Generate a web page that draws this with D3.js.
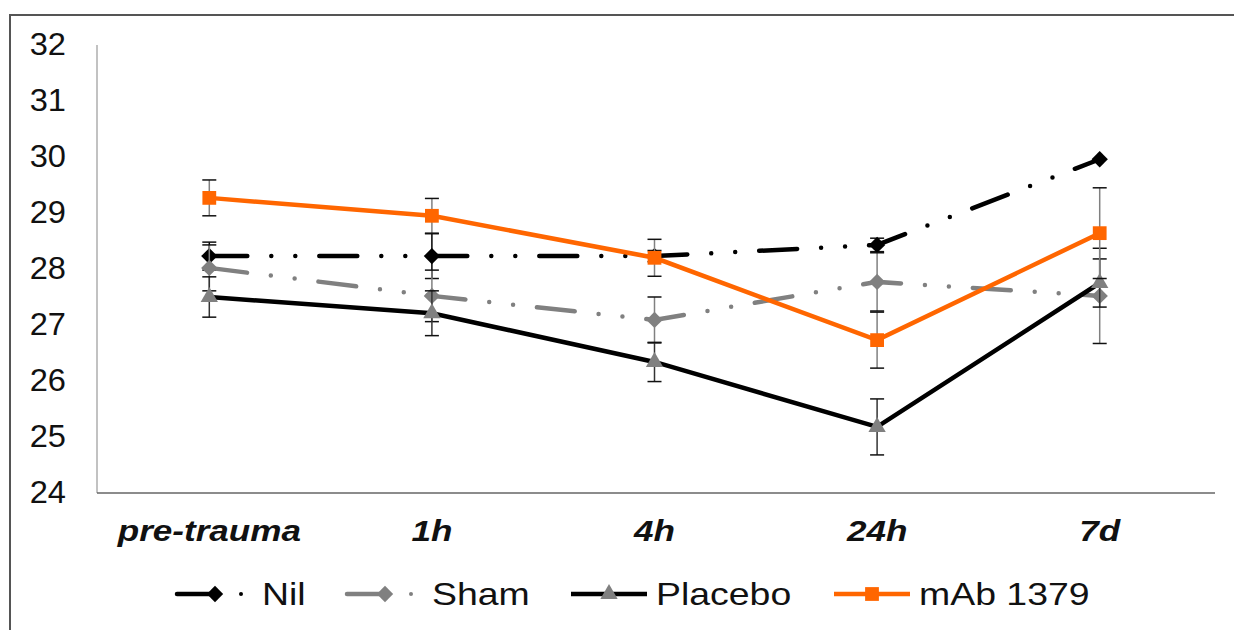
<!DOCTYPE html>
<html>
<head>
<meta charset="utf-8">
<style>
    body { margin: 0; background: #fff; }
    svg { display: block; font-family: 'Liberation Sans', Arial, sans-serif; }
    .y.axis .domain, .y.axis .tick line { display: none; }
    .x.axis .tick line { display: none; }
</style>
</head>
<body>
<svg width="1234" height="630"></svg>
<script src="https://d3js.org/d3.v7.min.js"></script>
<script>
    // time points
    const categories = ["pre-trauma", "1h", "4h", "24h", "7d"];
    const yTicks = [24, 25, 26, 27, 28, 29, 30, 31, 32];

    // series means and error bars
    const nil = [28.23, 28.23, 28.23, 28.43, 29.96];
    const nilErr = [0.25, 0.4, 0.1, 0.12, 0];
    const sham = [28.02, 27.52, 27.09, 27.77, 27.52];
    const shamErr = [0.41, 0.46, 0.41, 0.52, 0.85];
    const placebo = [27.5, 27.21, 26.34, 25.18, 27.75];
    const placeboErr = [0.36, 0.4, 0.35, 0.5, 0.43];
    const mab = [29.27, 28.95, 28.2, 26.73, 28.64];
    const mabErr = [0.32, 0.31, 0.33, 0.5, 0.81];

    const seriesNames = ["Nil", "Sham", "Placebo", "mAb 1379"];

    const series = [
        { name: seriesNames[0], values: nil, err: nilErr, line: "#000", dash: "38,24,0,24,0,24", marker: "diamond", fill: "#000", errColor: "#000" },
        { name: seriesNames[1], values: sham, err: shamErr, line: "#808080", dash: "38,24,0,24,0,24", marker: "diamond", fill: "#808080", errColor: "#808080" },
        { name: seriesNames[2], values: placebo, err: placeboErr, line: "#000", dash: null, marker: "triangle", fill: "#808080", errColor: "#333" },
        { name: seriesNames[3], values: mab, err: mabErr, line: "#ff6600", dash: null, marker: "square", fill: "#ff6600", errColor: "#808080" }
    ];

    const svg = d3.select("svg");
    const margin = { top: 45, right: 23, bottom: 137, left: 98 };
    const width = 1234, height = 630;

    // outer frame
    svg.append("rect")
        .attr("x", 10).attr("y", 15)
        .attr("width", 1240).attr("height", 640)
        .attr("fill", "none")
        .attr("stroke", "#555")
        .attr("stroke-width", 2);

    const x = d3.scaleBand()
        .domain(categories)
        .range([margin.left, width - margin.right]);

    const y = d3.scaleLinear()
        .domain([24, 32])
        .range([height - margin.bottom, margin.top]);

    const cx = d => x(d) + x.bandwidth() / 2;

    // y axis
    svg.append("line")
        .attr("x1", 97).attr("x2", 97)
        .attr("y1", y(32)).attr("y2", y(24))
        .attr("stroke", "#999").attr("stroke-width", 1.2);

    const ySx = 1.07;
    svg.append("g")
        .attr("class", "y axis")
        .attr("transform", "translate(97,0)")
        .call(d3.axisLeft(y).tickValues(yTicks).tickSize(0).tickPadding(0).tickFormat(d3.format("d")))
        .selectAll("text")
        .attr("x", -31 / ySx)
        .attr("transform", `scale(${ySx},1)`)
        .attr("font-size", 30.5)
        .attr("fill", "#111")
        .attr("font-family", "'Liberation Sans', Arial, sans-serif");

    // x axis
    svg.append("line")
        .attr("x1", 97).attr("x2", 1215)
        .attr("y1", y(24)).attr("y2", y(24))
        .attr("stroke", "#666").attr("stroke-width", 1.5);

    svg.append("g")
        .attr("class", "x axis")
        .attr("transform", `translate(0,${y(24)})`)
        .call(d3.axisBottom(x).tickSize(0).tickPadding(27))
        .call(g => g.select(".domain").remove())
        .selectAll("text")
        .attr("transform", "scale(1.17,1)")
        .attr("font-size", 30)
        .attr("font-weight", "bold")
        .attr("font-style", "italic")
        .attr("fill", "#111")
        .attr("font-family", "'Liberation Sans', Arial, sans-serif");

    const symbolOf = {
        diamond: d3.symbol().type(d3.symbolDiamond2 || d3.symbolDiamond).size(170),
        triangle: d3.symbol().type(d3.symbolTriangle).size(130),
        square: d3.symbol().type(d3.symbolSquare).size(190)
    };

    const line = d3.line()
        .x((d, i) => cx(categories[i]))
        .y(d => y(d));

    series.forEach(s => {
        const g = svg.append("g").attr("class", "series");

        g.append("path")
            .datum(s.values)
            .attr("d", line)
            .attr("fill", "none")
            .attr("stroke", s.line)
            .attr("stroke-width", 4.5)
            .attr("stroke-linecap", s.dash ? "round" : "butt")
            .attr("stroke-dasharray", s.dash);

        // error bars
        const eb = g.selectAll(".err")
            .data(s.values.map((v, i) => ({ v, e: s.err[i], c: categories[i] })).filter(d => d.e > 0))
            .join("g");
        eb.append("line")
            .attr("x1", d => cx(d.c)).attr("x2", d => cx(d.c))
            .attr("y1", d => y(d.v - d.e)).attr("y2", d => y(d.v + d.e))
            .attr("stroke", s.errColor).attr("stroke-width", 1.5);
        [-1, 1].forEach(sign => {
            eb.append("line")
                .attr("x1", d => cx(d.c) - 7).attr("x2", d => cx(d.c) + 7)
                .attr("y1", d => y(d.v + sign * d.e)).attr("y2", d => y(d.v + sign * d.e))
                .attr("stroke", "#111").attr("stroke-width", 1.5);
        });

        g.selectAll(".marker")
            .data(s.values)
            .join("path")
            .attr("class", "marker")
            .attr("transform", (d, i) => `translate(${cx(categories[i])},${y(d)})`)
            .attr("d", symbolOf[s.marker]())
            .attr("fill", s.fill);
    });

    // legend
    const legendX = [175, 345, 571, 834];
    const legendY = 594;
    const legend = svg.append("g").attr("class", "legend");
    series.forEach((s, i) => {
        const lg = legend.append("g").attr("transform", `translate(${legendX[i]},${legendY})`);
        if (s.dash) {
            lg.append("line")
                .attr("x1", 2).attr("x2", 36).attr("y1", 0).attr("y2", 0)
                .attr("stroke", s.line).attr("stroke-width", 4.5).attr("stroke-linecap", "round");
            lg.append("circle")
                .attr("cx", 66).attr("cy", 0).attr("r", 2)
                .attr("fill", s.line);
        } else {
            lg.append("line")
                .attr("x1", 0).attr("x2", 76).attr("y1", 0).attr("y2", 0)
                .attr("stroke", s.line).attr("stroke-width", 4.5);
        }
        lg.append("path")
            .attr("transform", `translate(${s.dash ? 40 : 38},0)`)
            .attr("d", symbolOf[s.marker]())
            .attr("fill", s.fill);
        lg.append("g")
            .attr("transform", `translate(${s.dash ? 87 : 85},11) scale(1.17,1)`)
            .append("text")
            .attr("font-size", 32)
            .attr("fill", "#111")
            .text(s.name);
    });
</script>
</body>
</html>
